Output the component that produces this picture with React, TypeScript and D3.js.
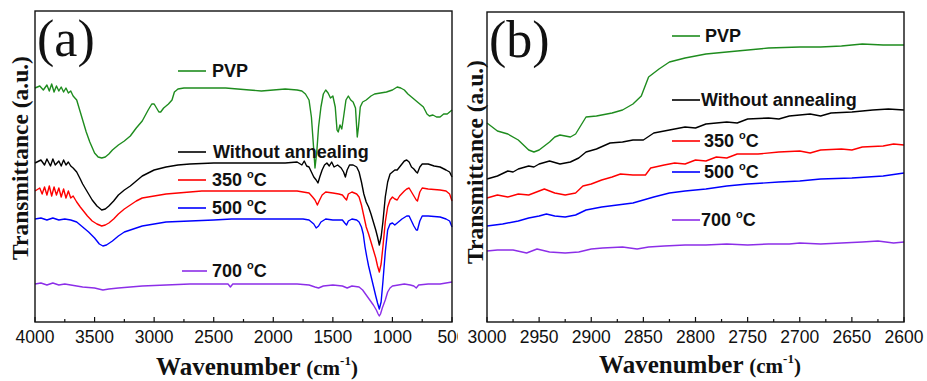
import { line, scaleLinear, range } from "d3";

const W = 927;
const H = 381;

type Pt = [number, number];

// wavenumber (cm-1), transmittance (a.u., stacked offsets)
const pvpA: Pt[] = [
  [4000, 234], [3960, 236], [3930, 232], [3900, 237], [3880, 231], [3860, 238], [3840, 230], [3820, 236], [3800, 231],
  [3780, 235], [3760, 230], [3740, 234], [3720, 229], [3700, 231], [3680, 226], [3650, 222], [3620, 210], [3600, 202],
  [3570, 190], [3540, 180], [3500, 169], [3470, 165], [3440, 164], [3410, 165], [3380, 168], [3350, 172], [3300, 177],
  [3250, 181], [3200, 186], [3150, 194], [3100, 201], [3050, 212], [3020, 218], [3000, 218], [2980, 214], [2960, 210],
  [2945, 210], [2920, 214], [2880, 218], [2850, 222], [2830, 230], [2800, 233], [2750, 234], [2600, 234], [2400, 234],
  [2300, 233], [2200, 232], [2100, 231], [2000, 232], [1900, 233], [1800, 232], [1760, 231], [1730, 228], [1700, 222],
  [1680, 205], [1665, 180], [1650, 154], [1635, 170], [1620, 195], [1600, 215], [1580, 228], [1560, 232], [1540, 229],
  [1520, 224], [1500, 226], [1480, 215], [1465, 192], [1455, 190], [1440, 197], [1425, 193], [1410, 205], [1390, 222],
  [1370, 226], [1350, 222], [1330, 220], [1310, 214], [1295, 185], [1285, 195], [1270, 215], [1250, 220], [1220, 222],
  [1180, 226], [1150, 228], [1100, 229], [1050, 230], [1000, 232], [960, 235], [930, 234], [900, 232], [870, 228],
  [840, 225], [800, 221], [770, 218], [740, 215], [710, 208], [690, 206], [660, 207], [630, 205], [600, 205],
  [570, 208], [540, 208], [500, 212],
];

const rawA: Pt[] = [
  [4000, 159], [3950, 162], [3920, 157], [3900, 163], [3870, 156], [3850, 163], [3830, 157], [3800, 161], [3780, 156],
  [3760, 162], [3740, 157], [3720, 160], [3700, 156], [3680, 154], [3650, 150], [3620, 143], [3600, 138], [3560, 130],
  [3520, 122], [3480, 116], [3440, 112], [3410, 113], [3380, 116], [3340, 121], [3300, 127], [3250, 132], [3200, 136],
  [3150, 141], [3100, 146], [3050, 149], [3000, 152], [2900, 155], [2800, 157], [2700, 158], [2500, 159], [2300, 159],
  [2100, 159], [1900, 159], [1800, 160], [1760, 157], [1740, 161], [1720, 156], [1700, 155], [1680, 150], [1660, 145],
  [1640, 142], [1625, 139], [1610, 145], [1590, 152], [1570, 157], [1550, 159], [1530, 156], [1510, 160], [1490, 155],
  [1460, 157], [1430, 154], [1410, 150], [1395, 145], [1380, 152], [1360, 157], [1330, 157], [1300, 155], [1280, 150],
  [1260, 140], [1240, 128], [1220, 120], [1200, 115], [1180, 108], [1160, 100], [1140, 92], [1125, 85], [1110, 77],
  [1095, 85], [1080, 100], [1060, 125], [1040, 140], [1020, 148], [1000, 150], [980, 152], [960, 152], [940, 155],
  [920, 158], [900, 161], [880, 162], [860, 160], [840, 155], [820, 153], [800, 150], [790, 149], [770, 155],
  [750, 158], [700, 158], [650, 156], [600, 155], [550, 152], [520, 150], [500, 145],
];

const c350A: Pt[] = [
  [4000, 131], [3960, 134], [3940, 128], [3920, 135], [3900, 127], [3880, 136], [3860, 126], [3840, 135], [3820, 127],
  [3800, 134], [3780, 125], [3760, 133], [3740, 124], [3720, 131], [3700, 124], [3680, 126], [3650, 120], [3620, 115],
  [3600, 112], [3560, 106], [3520, 101], [3480, 98], [3440, 96], [3410, 97], [3380, 99], [3340, 103], [3300, 108],
  [3250, 113], [3200, 117], [3150, 121], [3100, 124], [3000, 126], [2900, 128], [2800, 129], [2600, 131], [2400, 131],
  [2100, 131], [1900, 131], [1800, 131], [1750, 130], [1700, 129], [1670, 125], [1650, 122], [1630, 117], [1615, 121],
  [1590, 127], [1560, 130], [1500, 129], [1450, 128], [1420, 127], [1400, 124], [1385, 122], [1370, 128], [1340, 130],
  [1300, 128], [1280, 125], [1260, 117], [1240, 106], [1220, 95], [1200, 88], [1180, 80], [1160, 72], [1140, 64],
  [1125, 56], [1110, 50], [1095, 58], [1080, 75], [1060, 100], [1040, 115], [1020, 122], [1000, 125], [980, 123],
  [960, 122], [940, 126], [900, 131], [880, 133], [860, 134], [840, 130], [820, 126], [800, 122], [790, 121],
  [770, 130], [750, 134], [700, 133], [600, 132], [550, 131], [520, 128], [500, 121],
];

const c500A: Pt[] = [
  [4000, 103], [3950, 104], [3900, 102], [3850, 104], [3800, 102], [3750, 103], [3700, 102], [3650, 100], [3600, 95],
  [3550, 90], [3500, 84], [3460, 78], [3430, 76], [3400, 77], [3350, 81], [3300, 86], [3250, 90], [3200, 92],
  [3100, 96], [3000, 98], [2900, 100], [2700, 101], [2500, 102], [2350, 103], [2100, 103], [1900, 103], [1750, 103],
  [1700, 102], [1660, 98], [1640, 94], [1620, 96], [1600, 100], [1560, 103], [1500, 102], [1420, 102], [1400, 99],
  [1385, 97], [1370, 101], [1340, 103], [1300, 102], [1280, 100], [1260, 95], [1245, 88], [1230, 75], [1215, 65],
  [1200, 56], [1180, 46], [1160, 36], [1140, 26], [1125, 19], [1110, 13], [1095, 20], [1080, 40], [1060, 70],
  [1040, 92], [1020, 98], [1000, 99], [980, 97], [960, 99], [920, 103], [880, 106], [860, 106], [840, 101],
  [820, 96], [800, 92], [790, 92], [770, 101], [750, 106], [700, 106], [600, 105], [550, 103], [520, 101], [500, 95],
];

const c700A: Pt[] = [
  [4000, 38], [3950, 39], [3900, 37], [3850, 39], [3800, 37], [3750, 38], [3700, 37], [3650, 36], [3600, 35],
  [3500, 34], [3430, 32], [3380, 33], [3300, 34], [3100, 36], [2900, 37], [2700, 38], [2500, 38], [2380, 38],
  [2360, 35], [2340, 38], [2200, 38], [2000, 38], [1800, 38], [1700, 37], [1650, 35], [1620, 34], [1580, 36],
  [1500, 37], [1420, 36], [1380, 34], [1340, 36], [1280, 35], [1250, 32], [1220, 27], [1190, 22], [1160, 17],
  [1135, 12], [1120, 8], [1110, 6], [1100, 8], [1085, 14], [1060, 22], [1040, 30], [1020, 34], [1000, 36],
  [950, 37], [900, 38], [850, 37], [820, 36], [800, 34], [780, 37], [700, 38], [600, 38], [550, 39], [500, 40],
];

// panel (b): 3000-2600 cm-1 zoom
const pvpB: Pt[] = [
  [3000, 199], [2990, 191], [2980, 188], [2970, 182], [2960, 172], [2955, 170], [2950, 172], [2940, 180], [2935, 185],
  [2930, 187], [2920, 185], [2915, 188], [2905, 205], [2895, 206], [2880, 209], [2870, 212], [2860, 218], [2852, 226],
  [2845, 245], [2835, 253], [2825, 260], [2810, 264], [2790, 268], [2760, 271], [2730, 274], [2700, 275], [2680, 275],
  [2660, 276], [2640, 278], [2620, 277], [2600, 277],
];

const rawB: Pt[] = [
  [3000, 143], [2990, 146], [2980, 151], [2975, 150], [2970, 153], [2960, 156], [2955, 155], [2950, 158], [2940, 161],
  [2930, 158], [2920, 160], [2912, 164], [2905, 170], [2895, 173], [2882, 179], [2870, 180], [2860, 182], [2850, 182],
  [2840, 189], [2825, 192], [2810, 195], [2800, 194], [2790, 198], [2770, 200], [2760, 199], [2750, 203], [2730, 204],
  [2720, 203], [2710, 206], [2690, 208], [2680, 206], [2670, 209], [2650, 210], [2630, 212], [2615, 213], [2600, 212],
];

const c350B: Pt[] = [
  [3000, 124], [2990, 127], [2980, 125], [2970, 128], [2960, 127], [2950, 131], [2945, 133], [2935, 129], [2925, 127],
  [2915, 129], [2908, 136], [2900, 138], [2890, 142], [2880, 145], [2872, 148], [2860, 147], [2848, 147], [2843, 154],
  [2830, 157], [2820, 159], [2810, 158], [2800, 162], [2790, 161], [2780, 165], [2770, 164], [2760, 168], [2740, 168],
  [2720, 170], [2700, 171], [2690, 169], [2680, 172], [2660, 173], [2650, 172], [2640, 175], [2620, 176], [2610, 178],
  [2600, 177],
];

const c500B: Pt[] = [
  [3000, 96], [2985, 98], [2970, 101], [2960, 104], [2950, 106], [2943, 108], [2935, 106], [2925, 105], [2915, 107],
  [2905, 112], [2890, 115], [2875, 117], [2860, 119], [2850, 122], [2840, 125], [2825, 129], [2810, 131], [2790, 133],
  [2770, 136], [2750, 138], [2720, 140], [2700, 141], [2680, 143], [2650, 144], [2620, 146], [2600, 149],
];

const c700B: Pt[] = [
  [3000, 71], [2990, 72], [2975, 72], [2962, 69], [2952, 73], [2940, 70], [2925, 69], [2912, 70], [2900, 73],
  [2889, 74], [2870, 75], [2856, 73], [2845, 75], [2830, 76], [2810, 77], [2790, 77], [2770, 78], [2750, 77],
  [2730, 78], [2710, 78], [2700, 79], [2680, 78], [2660, 79], [2640, 80], [2625, 81], [2610, 79], [2600, 80],
];

const seriesNames = ["PVP", "Without annealing", "350", "500", "700"];
const seriesColors = ["#1e8c1e", "#000000", "#ff0000", "#0000ff", "#8c2ee8"];

const ticksA = range(4000, 499, -500);
const minorA = range(3750, 500, -500);
const ticksB = range(3000, 2599, -50);
const minorB = range(2975, 2600, -50);

const SERIF = "'Liberation Serif', 'Times New Roman', serif";
const SANS = "'Liberation Sans', Arial, sans-serif";

type LegendRow = { y: number; x1: number; x2: number; tx: number };

type PanelProps = {
  left: number;
  right: number;
  top: number;
  bottom: number;
  domain: [number, number];
  yMax: number;
  ticks: number[];
  minor: number[];
  data: Pt[][];
  legend: LegendRow[];
  tag: string;
  tagX: number;
  yLabelX: number;
  yLabelY: number;
  xTitleX: number;
  xTitleY: number;
};

function LegendText({ name }: { name: string }) {
  if (name === "PVP" || name === "Without annealing") return <>{name}</>;
  // temperature rows: "350 °C" with a raised small o
  return (
    <>
      {name + " "}
      <tspan fontSize={11} dy={-8}>o</tspan>
      <tspan dy={8}>C</tspan>
    </>
  );
}

function Panel(p: PanelProps) {
  const x = scaleLinear().domain(p.domain).range([p.left, p.right]);
  const y = scaleLinear().domain([0, p.yMax]).range([p.bottom, p.top]);
  const path = line<Pt>().x((d) => x(d[0])).y((d) => y(d[1]));

  return (
    <g>
      {p.data.map((d, i) => (
        <path key={i} d={path(d) ?? ""} fill="none" stroke={seriesColors[i]} strokeWidth={1.4} strokeLinejoin="round" />
      ))}
      <rect x={p.left} y={p.top} width={p.right - p.left} height={p.bottom - p.top} fill="none" stroke="#111" strokeWidth={1.4} />
      {p.ticks.map((t) => (
        <g key={t}>
          <line x1={x(t)} x2={x(t)} y1={p.bottom} y2={p.bottom - 5} stroke="#111" strokeWidth={1.2} />
          <text x={x(t)} y={p.bottom + 21} textAnchor="middle" fontFamily={SANS} fontSize={17.5} fill="#111">{t}</text>
        </g>
      ))}
      {p.minor.map((t) => (
        <line key={t} x1={x(t)} x2={x(t)} y1={p.bottom} y2={p.bottom - 3} stroke="#111" strokeWidth={1.2} />
      ))}
      {p.legend.map((r, i) => (
        <g key={i}>
          <line x1={r.x1} x2={r.x2} y1={r.y} y2={r.y} stroke={seriesColors[i]} strokeWidth={1.6} />
          <text x={r.tx} y={r.y + 6} fontFamily={SANS} fontWeight="bold" fontSize={18} fill="#111">
            <LegendText name={seriesNames[i]} />
          </text>
        </g>
      ))}
      <text x={p.tagX} y={p.top + 45} fontFamily={SERIF} fontSize={52} fill="#111">{p.tag}</text>
      <text
        transform={`translate(${p.yLabelX},${p.yLabelY}) rotate(-90)`}
        textAnchor="middle"
        fontFamily={SERIF}
        fontWeight="bold"
        fontSize={23.5}
        fill="#111"
      >
        Transmittance (a.u.)
      </text>
      <text x={p.xTitleX} y={p.xTitleY} textAnchor="middle" fontFamily={SERIF} fontWeight="bold" fill="#111">
        <tspan fontSize={25}>Wavenumber </tspan>
        <tspan fontSize={21}>(cm</tspan>
        <tspan fontSize={13} dy={-10}>-1</tspan>
        <tspan fontSize={21} dy={10}>)</tspan>
      </text>
    </g>
  );
}

export default function App() {
  const legendA: LegendRow[] = [
    { y: 71, x1: 178, x2: 206, tx: 212 },
    { y: 152, x1: 178, x2: 206, tx: 213 },
    { y: 180, x1: 178, x2: 206, tx: 212 },
    { y: 208, x1: 178, x2: 206, tx: 212 },
    { y: 271, x1: 182, x2: 207, tx: 212 },
  ];
  const legendB: LegendRow[] = [
    { y: 36, x1: 672, x2: 700, tx: 705 },
    { y: 100, x1: 672, x2: 700, tx: 701 },
    { y: 141, x1: 672, x2: 700, tx: 704 },
    { y: 172, x1: 672, x2: 700, tx: 704 },
    { y: 220, x1: 672, x2: 700, tx: 701 },
  ];

  return (
    <svg width={W} height={H} style={{ position: "absolute", left: 0, top: 0, background: "#fff" }}>
      <rect width={W} height={H} fill="#fff" />
      <Panel
        left={35}
        right={452}
        top={11}
        bottom={322}
        domain={[4000, 500]}
        yMax={311}
        ticks={ticksA}
        minor={minorA}
        data={[pvpA, rawA, c350A, c500A, c700A]}
        legend={legendA}
        tag="(a)"
        tagX={37}
        yLabelX={28}
        yLabelY={158}
        xTitleX={257}
        xTitleY={375}
      />
      <rect x={458} y={0} width={W - 458} height={H} fill="#fff" />
      <Panel
        left={487}
        right={904}
        top={12}
        bottom={322}
        domain={[3000, 2600]}
        yMax={310}
        ticks={ticksB}
        minor={minorB}
        data={[pvpB, rawB, c350B, c500B, c700B]}
        legend={legendB}
        tag="(b)"
        tagX={489}
        yLabelX={483}
        yLabelY={162}
        xTitleX={700}
        xTitleY={373}
      />
    </svg>
  );
}
